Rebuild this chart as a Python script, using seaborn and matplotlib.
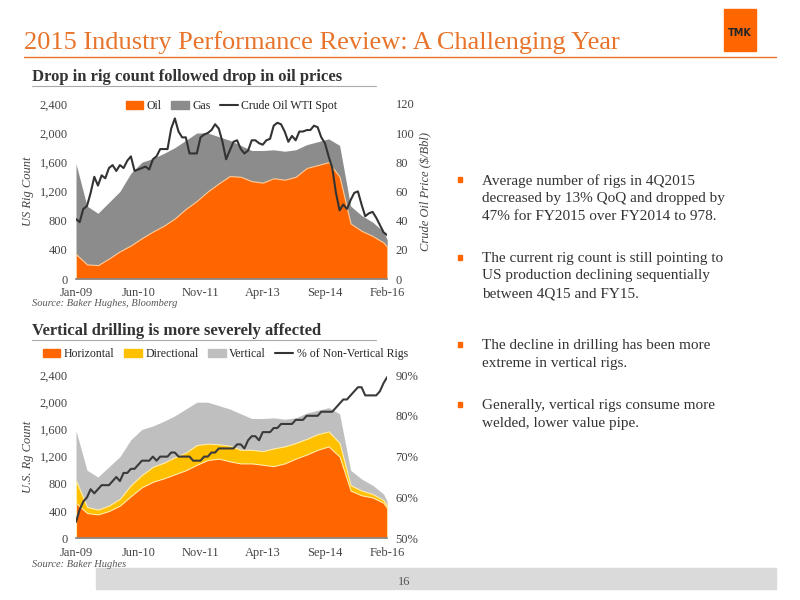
import numpy as np
import pandas as pd
import matplotlib
matplotlib.use("Agg")
import matplotlib.pyplot as plt
import seaborn as sns
from matplotlib.patches import Patch, Rectangle
from matplotlib.lines import Line2D

sns.set_theme(style="white")
plt.rcParams['font.family'] = ['Liberation Serif', 'DejaVu Serif']

tick_labels = ["Jan-09", "Jun-10", "Nov-11", "Apr-13", "Sep-14", "Feb-16"]
tick_months = [0, 17, 34, 51, 68, 85]
q_months = list(range(0, 85, 3)) + [85]

oil_rigs = [340,200,190,280,380,460,560,650,730,830,960,1070,1200,1310,1410,1400,1340,1320,1380,1360,1400,1520,1560,1600,1400,760,660,590,500,440]
total_rigs = [1580,1000,900,1050,1200,1450,1600,1650,1720,1800,1900,2000,2000,1950,1900,1830,1760,1760,1770,1750,1770,1840,1880,1920,1830,1000,870,780,650,540]
wti = [41,39,48,50,59,70,64,71,69,76,78,74,
       78,76,81,84,74,75,76,77,75,82,84,89,
       89,89,103,110,101,97,97,86,86,86,97,99,
       100,102,106,103,94,82,88,94,95,89,86,88,
       95,95,93,92,95,96,105,107,106,101,94,98,
       95,101,101,102,102,105,104,97,93,84,76,59,
       47,51,48,54,59,60,51,43,45,46,42,37,
       32,30]
horizontal = [520,370,350,400,480,620,750,830,880,940,1000,1080,1150,1170,1130,1100,1100,1080,1060,1100,1170,1230,1300,1350,1200,700,630,600,520,440]
horiz_dir = [850,460,420,480,580,780,930,1050,1110,1190,1260,1370,1390,1380,1360,1300,1300,1280,1320,1350,1400,1460,1530,1570,1400,780,700,650,560,480]
pct_nonvert = [54,57,59,60,62,61,62,63,63,63,64,65,
               64,66,66,67,67,68,69,69,69,70,69,70,
               70,70,71,71,70,70,70,70,69,69,69,70,
               70,71,71,72,72,72,72,72,73,73,72,74,
               75,75,74,76,76,76,77,77,78,78,78,78,
               79,79,79,80,80,80,80,81,81,81,81,82,
               83,84,84,85,86,87,87,85,85,85,85,86,
               88,89.5]
months = list(range(len(wti)))

ORANGE = "#FF6600"
fig = plt.figure(figsize=(8, 6), dpi=100)
fig.patch.set_facecolor("white")

fig.text(0.03, 0.918, "2015 Industry Performance Review: A Challenging Year", color="#E8732A", fontsize=19)
fig.add_artist(Line2D([0.03, 0.97], [0.905, 0.905], color="#E8732A", lw=1))
fig.add_artist(Rectangle((0.905, 0.915), 0.04, 0.07, color=ORANGE, transform=fig.transFigure))
fig.text(0.925, 0.945, "TMK", fontsize=7, fontweight="bold", ha="center", va="center", family="DejaVu Sans")

def style_axes(ax):
    for s in ["top", "right", "left"]:
        ax.spines[s].set_visible(False)
    ax.spines["bottom"].set_color("#888888")
    ax.tick_params(colors="#444444", labelsize=9, length=0, pad=6)
    ax.set_xlim(0, 85)
    ax.set_xticks(tick_months)
    ax.set_xticklabels(tick_labels)
    ax.set_ylim(0, 2400)
    ax.set_yticks(range(0, 2401, 400))
    ax.set_yticklabels([f"{v:,}" for v in range(0, 2401, 400)])
    ax.set_xlabel("")

def style_twin(ax):
    for s in ["top", "left", "right", "bottom"]:
        ax.spines[s].set_visible(False)
    ax.tick_params(colors="#444444", labelsize=9, length=0, pad=6)

# Top chart
fig.text(0.04, 0.865, "Drop in rig count followed drop in oil prices", fontsize=12, fontweight="bold", color="#333333")
fig.add_artist(Line2D([0.04, 0.47], [0.857, 0.857], color="#aaaaaa", lw=0.8))
ax1 = fig.add_axes([0.095, 0.535, 0.389, 0.292])
ax1.fill_between(q_months, 0, total_rigs, color="#8C8C8C", lw=0)
ax1.fill_between(q_months, 0, oil_rigs, color=ORANGE, lw=0.8, edgecolor="#ffcc99")
style_axes(ax1)
ax1.set_ylabel("US Rig Count", fontsize=9, style="italic", color="#444444")
ax1b = ax1.twinx()
sns.lineplot(x=months, y=wti, ax=ax1b, color="#333333", lw=1.5)
ax1b.set_ylim(0, 120)
ax1b.set_yticks(range(0, 121, 20))
style_twin(ax1b)
ax1b.set_ylabel("Crude Oil Price ($/Bbl)", fontsize=9, style="italic", color="#444444")
ax1b.legend(handles=[Patch(color=ORANGE, label="Oil"), Patch(color="#8C8C8C", label="Gas"),
                     Line2D([], [], color="#333333", lw=1.5, label="Crude Oil WTI Spot")],
            loc="upper center", bbox_to_anchor=(0.5, 1.08), ncol=3, frameon=False, fontsize=8.5,
            handlelength=1.5, columnspacing=0.8, handletextpad=0.3)
fig.text(0.04, 0.49, "Source: Baker Hughes, Bloomberg", fontsize=7.5, style="italic", color="#555555")

# Bottom chart
fig.text(0.04, 0.442, "Vertical drilling is more severely affected", fontsize=12, fontweight="bold", color="#333333")
fig.add_artist(Line2D([0.04, 0.47], [0.434, 0.434], color="#aaaaaa", lw=0.8))
ax2 = fig.add_axes([0.095, 0.103, 0.389, 0.272])
ax2.fill_between(q_months, 0, total_rigs, color="#BFBFBF", lw=0)
ax2.fill_between(q_months, 0, horiz_dir, color="#FFC000", lw=0.8, edgecolor="#ffeeaa")
ax2.fill_between(q_months, 0, horizontal, color=ORANGE, lw=0.8, edgecolor="#ffeeaa")
style_axes(ax2)
ax2.set_ylabel("U.S. Rg Count", fontsize=9, style="italic", color="#444444")
ax2b = ax2.twinx()
sns.lineplot(x=months, y=pct_nonvert, ax=ax2b, color="#3a3a3a", lw=1.5)
ax2b.set_ylim(50, 90)
ax2b.set_yticks(range(50, 91, 10))
ax2b.set_yticklabels([f"{v}%" for v in range(50, 91, 10)])
style_twin(ax2b)
ax2b.set_ylabel("")
fig.legend(handles=[Patch(color=ORANGE, label="Horizontal"), Patch(color="#FFC000", label="Directional"),
                    Patch(color="#BFBFBF", label="Vertical"),
                    Line2D([], [], color="#333333", lw=1.5, label="% of Non-Vertical Rigs")],
           loc="center left", bbox_to_anchor=(0.04, 0.41), ncol=4, frameon=False, fontsize=8.5,
           handlelength=1.5, columnspacing=0.8, handletextpad=0.3)
fig.text(0.04, 0.055, "Source: Baker Hughes", fontsize=7.5, style="italic", color="#555555")

bullets = [
    (0.71, "Average number of rigs in 4Q2015\ndecreased by 13% QoQ and dropped by\n47% for FY2015 over FY2014 to 978."),
    (0.58, "The current rig count is still pointing to\nUS production declining sequentially\nbetween 4Q15 and FY15."),
    (0.435, "The decline in drilling has been more\nextreme in vertical rigs."),
    (0.335, "Generally, vertical rigs consume more\nwelded, lower value pipe."),
]
for y, t in bullets:
    fig.add_artist(Rectangle((0.572, y - 0.013), 0.006, 0.008, color=ORANGE, transform=fig.transFigure))
    fig.text(0.603, y, t, fontsize=11, color="#333333", va="top", linespacing=1.45)

fig.add_artist(Rectangle((0.12, 0.018), 0.85, 0.035, color="#DADADA", transform=fig.transFigure))
fig.text(0.505, 0.025, "16", fontsize=9, color="#555555", ha="center")

fig.savefig("out.png", dpi=100, facecolor="white")
